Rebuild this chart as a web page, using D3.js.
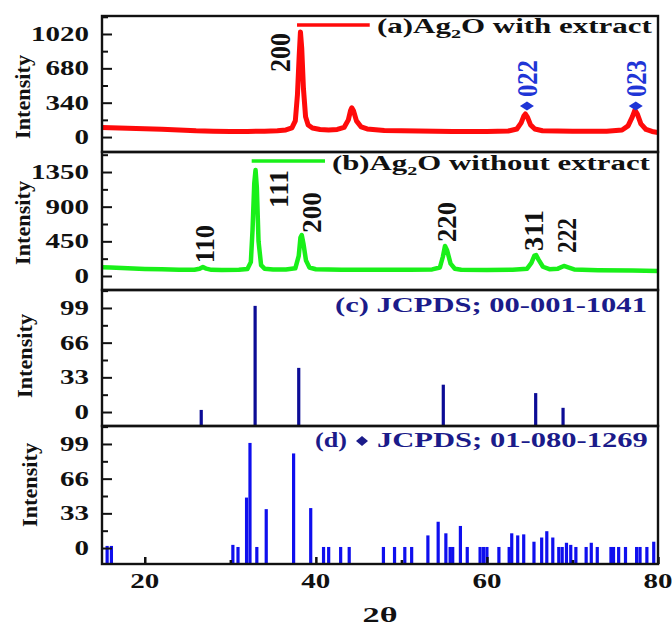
<!DOCTYPE html>
<html><head><meta charset="utf-8">
<script src="https://cdn.jsdelivr.net/npm/d3@7"></script>
<style>
body{margin:0;background:#fff}
svg{display:block}
text{font-family:"Liberation Serif","Times New Roman",serif;font-weight:bold}
</style>
</head><body>
<svg id="chart" width="672" height="626"></svg>
<script>
// ---------- data ----------
const xTicks = [20, 40, 60, 80];
const xMinorTicks = [30, 50, 70];
const ticksA = [0, 340, 680, 1020];
const ticksB = [0, 450, 900, 1350];
const ticksC = [0, 33, 66, 99];
const ticksD = [0, 33, 66, 99];

// (a) Ag2O with extract : [2theta, intensity]
const seriesA = [[15,95],[16,92],[18,88],[20,82],[22,76],[24,70],[26,62],[28,58],[30,55],[32,55],[34,58],[35.5,62],[36.5,70],[37.2,90],[37.6,160],[37.85,420],[38.05,800],[38.2,1040],[38.35,880],[38.55,480],[38.8,200],[39.1,120],[39.6,90],[40.5,75],[41.5,70],[42.5,75],[43.3,95],[43.8,170],[44.05,260],[44.2,290],[44.4,260],[44.75,160],[45.3,100],[46,80],[48,65],[52,60],[56,55],[60,55],[62.5,60],[63.5,80],[64.0,140],[64.3,205],[64.5,228],[64.75,195],[65.1,120],[65.6,80],[66.5,62],[70,58],[74,58],[75.8,70],[76.5,110],[77.0,200],[77.3,267],[77.6,225],[78.0,130],[78.6,75],[79.3,55],[80,45]];

// (b) Ag2O without extract
const seriesB = [[15,115],[16,110],[18,100],[20,92],[22,86],[24,82],[25.8,82],[26.4,95],[26.8,118],[27.2,95],[27.8,80],[29,78],[31,80],[32.0,90],[32.4,180],[32.6,600],[32.8,1200],[32.95,1376],[33.1,1150],[33.3,450],[33.6,140],[34.0,95],[35,85],[36.5,85],[37.6,100],[38.0,260],[38.2,500],[38.35,532],[38.55,420],[38.85,200],[39.25,110],[40,88],[43,82],[47,80],[51,80],[53.6,85],[54.5,110],[54.85,250],[55.1,389],[55.35,330],[55.75,160],[56.25,95],[57,82],[60,78],[63,80],[64.7,95],[65.2,170],[65.55,265],[65.75,272],[66.05,210],[66.55,120],[67.3,88],[68.3,95],[69.0,130],[69.5,112],[70.2,85],[73,75],[77,70],[80,66]];

// (c) JCPDS 00-001-1041 stick pattern
const barsC = [[26.6,2],[32.9,101],[38.0,42],[54.9,26],[65.7,18],[68.9,4]];

// (d) JCPDS 01-080-1269 stick pattern
const barsD = [[15.6,2],[16.1,2],[30.3,3],[30.9,1],[31.9,48],[32.3,100],[33.1,1],[34.2,37],[37.4,90],[39.4,38],[40.9,1],[41.5,1],[42.9,1],[43.9,1],[47.9,1],[49.2,1],[50.4,1],[51.2,1],[53.1,12],[54.3,25],[55.2,14],[55.7,1],[56.0,1],[56.9,21],[57.7,1],[59.2,1],[59.6,1],[60.0,1],[61.4,1],[62.6,1],[62.9,14],[63.6,12],[64.3,13],[65.5,6],[66.4,10],[67.0,16],[67.7,10],[68.4,1],[68.8,1],[69.3,5],[69.8,3],[70.4,1],[71.6,1],[72.2,5],[72.9,1],[74.5,1],[74.8,1],[75.4,1],[76.2,1],[77.5,1],[77.9,1],[78.7,1],[79.5,6]];

// peak labels [text, 2theta anchor, intensity anchor]
const labelsA = [["200",35.76,644]];
const labelsAblue = [["022",64.68,396,307],["023",77.4,396,307]];
const labelsB = [["110",27.04,169],["111",35.69,883],["200",39.55,558],["220",55.33,441],["311",65.5,325],["222",69.36,299]];
const legendA = [[37.8,1109],[46.3,1109]];
const legendB = [[32.5,1493],[41.07,1493]];

// ---------- layout ----------
const svg = d3.select("#chart");
const L = 102, R = 658;
const x = d3.scaleLinear().domain([15, 80]).range([L, R]);
const panels = [
  {top:16,  bottom:152, dom:[-148,1198],  ticks:ticksA, minorStep:170},
  {top:152, bottom:290, dom:[-182,1610],  ticks:ticksB, minorStep:225},
  {top:290, bottom:426, dom:[-13.3,116.1],ticks:ticksC, minorStep:16.5},
  {top:426, bottom:564, dom:[-15.2,116.1],ticks:ticksD, minorStep:16.5}
];
panels.forEach(p => p.y = d3.scaleLinear().domain(p.dom).range([p.bottom, p.top]));

function hText(g, str, px, py, size, target, anchor, fill) {
  const t = g.append("text").attr("font-size", size).attr("fill", fill || "#111")
    .attr("text-anchor", anchor || "start").text(str);
  const w = t.node().getComputedTextLength();
  const s = target / w;
  t.attr("transform", `translate(${px},${py}) scale(${s},1)`);
  return t;
}
function vText(g, str, px, py, size, target, sx, fill, anchor) {
  const t = g.append("text").attr("font-size", size).attr("fill", fill || "#111")
    .attr("text-anchor", anchor || "start").attr("dy", "0.35em").text(str);
  const w = t.node().getComputedTextLength();
  t.attr("transform", `translate(${px},${py}) rotate(-90) scale(${target / w},${sx})`);
  return t;
}

// ---------- marks ----------
const A = panels[0], B = panels[1], C = panels[2], D = panels[3];

const clipDefs = svg.append("defs");
panels.forEach((p, i) => {
  clipDefs.append("clipPath").attr("id", "clip" + i).append("rect")
    .attr("x", L).attr("y", p.top).attr("width", R - L).attr("height", p.bottom - p.top);
});

svg.append("path").datum(seriesA).attr("clip-path", "url(#clip0)")
  .attr("fill", "none").attr("stroke", "#ff0a0a").attr("stroke-width", 5)
  .attr("stroke-linejoin", "round")
  .attr("d", d3.line().x(d => x(d[0])).y(d => A.y(d[1])));
svg.append("path").datum(seriesB).attr("clip-path", "url(#clip1)")
  .attr("fill", "none").attr("stroke", "#19f019").attr("stroke-width", 4.5)
  .attr("stroke-linejoin", "round")
  .attr("d", d3.line().x(d => x(d[0])).y(d => B.y(d[1])));

svg.append("g").selectAll("rect").data(barsC).join("rect")
  .attr("x", d => x(d[0]) - 1.6).attr("width", 3.2)
  .attr("y", d => C.y(d[1])).attr("height", d => C.bottom - C.y(d[1]))
  .attr("fill", "#0c0c96");
svg.append("g").selectAll("rect").data(barsD).join("rect")
  .attr("x", d => x(d[0]) - 1.6).attr("width", 3.2)
  .attr("y", d => D.y(d[1])).attr("height", d => D.bottom - D.y(d[1]))
  .attr("fill", "#0f0fee");

// legend lines
svg.append("path").datum(legendA).attr("stroke", "#ff0a0a").attr("stroke-width", 3.5)
  .attr("d", d3.line().x(d => x(d[0])).y(d => A.y(d[1])));
svg.append("path").datum(legendB).attr("stroke", "#19f019").attr("stroke-width", 3.5)
  .attr("d", d3.line().x(d => x(d[0])).y(d => B.y(d[1])));

// ---------- axes & frames ----------
panels.forEach((p, i) => {
  const minors = [];
  for (let v = p.ticks[0] + p.minorStep; v < p.dom[1]; v += 2 * p.minorStep) minors.push(v);
  const gMaj = svg.append("g").attr("transform", `translate(${L},0)`)
    .call(d3.axisLeft(p.y).tickValues(p.ticks).tickSize(-10).tickSizeOuter(0).tickFormat(""));
  const gMin = svg.append("g").attr("transform", `translate(${L},0)`)
    .call(d3.axisLeft(p.y).tickValues(minors).tickSize(-6).tickSizeOuter(0).tickFormat(""));
  [gMaj, gMin].forEach(g => { g.select(".domain").remove(); g.selectAll("line").attr("stroke", "#111").attr("stroke-width", 2); });
  p.ticks.forEach(v => hText(svg, String(v), 89, p.y(v) + 7, 20, String(v).length * 14.5, "end"));
  svg.append("rect").attr("x", L).attr("y", p.top).attr("width", R - L).attr("height", p.bottom - p.top)
    .attr("fill", "none").attr("stroke", "#111").attr("stroke-width", 2.4);
});

const gx = svg.append("g").attr("transform", `translate(0,${D.bottom})`)
  .call(d3.axisBottom(x).tickValues(xTicks).tickSize(-7).tickSizeOuter(0).tickFormat(""));
const gx2 = svg.append("g").attr("transform", `translate(0,${D.bottom})`)
  .call(d3.axisBottom(x).tickValues(xMinorTicks).tickSize(-4).tickSizeOuter(0).tickFormat(""));
[gx, gx2].forEach(g => { g.select(".domain").remove(); g.selectAll("line").attr("stroke", "#111").attr("stroke-width", 2.5); });
xTicks.forEach(v => hText(svg, String(v), x(v), 588, 20, 29, "middle"));
hText(svg, "2θ", 380, 622, 20, 35, "middle");

// y titles
[[22, 97], [22, 223], [24, 356], [29, 485]].forEach(([cx, cy]) => {
  vText(svg, "Intensity", cx, cy, 22, 84, 1.0, "#111", "middle");
});

// ---------- texts ----------
// (a) title
{
  const t = svg.append("text").attr("font-size", 20).attr("fill", "#111");
  t.append("tspan").text("(a)Ag");
  t.append("tspan").attr("font-size", 13).attr("dy", 5).text("2");
  t.append("tspan").attr("dy", -5).text("O with extract");
  const s = 275 / t.node().getComputedTextLength();
  t.attr("transform", `translate(377,33) scale(${s},1)`);
}
{
  const t = svg.append("text").attr("font-size", 20).attr("fill", "#111");
  t.append("tspan").text("(b)Ag");
  t.append("tspan").attr("font-size", 13).attr("dy", 5).text("2");
  t.append("tspan").attr("dy", -5).text("O without extract");
  const s = 318 / t.node().getComputedTextLength();
  t.attr("transform", `translate(332,170) scale(${s},1)`);
}
hText(svg, "(c) JCPDS; 00-001-1041", 335, 312, 20, 312, "start", "#1b1b8a");
hText(svg, "(d)", 315, 447, 20, 32, "start", "#1b1b8a");
svg.append("path").attr("d", "M0,-5L6,0L0,5L-6,0Z").attr("transform", "translate(362,441)").attr("fill", "#1b1b8a");
hText(svg, "JCPDS; 01-080-1269", 377, 447, 20, 271, "start", "#1b1b8a");

// peak labels
labelsA.forEach(d => vText(svg, d[0], x(d[1]), A.y(d[2]), 19, 39, 1.5, "#111"));
labelsAblue.forEach(d => {
  vText(svg, d[0], x(d[1]), A.y(d[2]), 19, 37, 1.5, "#1f35d6");
  svg.append("path").attr("d", "M0,-4.5L7,0L0,4.5L-7,0Z")
    .attr("transform", `translate(${x(d[1])},${A.y(d[3])})`).attr("fill", "#1f35d6");
});
const lenB = {"110":38, "111":38, "200":41, "220":40, "311":41, "222":35};
labelsB.forEach(d => vText(svg, d[0], x(d[1]), B.y(d[2]), 19, lenB[d[0]], 1.4, "#111"));
</script>
</body></html>
